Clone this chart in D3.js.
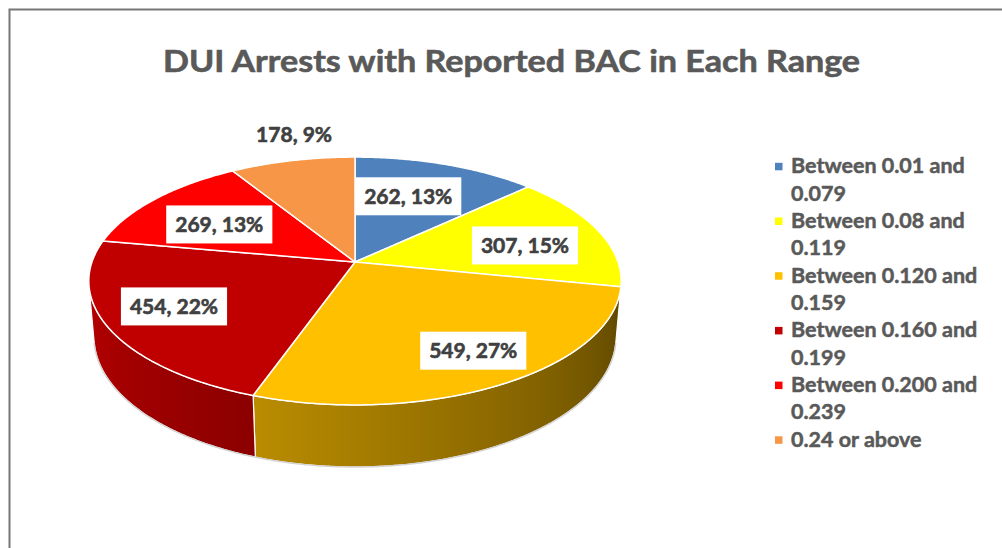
<!DOCTYPE html>
<html><head><meta charset="utf-8">
<script src="https://cdn.jsdelivr.net/npm/d3@7"></script>
<style>body{margin:0;background:#fff} svg{display:block}</style>
</head><body>
<svg id="chart" width="1002" height="548"></svg>
<script>
// ---- data ----
const categories = ["Between 0.01 and 0.079","Between 0.08 and 0.119","Between 0.120 and 0.159","Between 0.160 and 0.199","Between 0.200 and 0.239","0.24 or above"];
const legendLines = [["Between 0.01 and","0.079"],["Between 0.08 and","0.119"],["Between 0.120 and","0.159"],["Between 0.160 and","0.199"],["Between 0.200 and","0.239"],["0.24 or above"]];
const values = [262, 307, 549, 454, 269, 178];
const colors = ["#4f81bd", "#ffff00", "#ffc000", "#c00000", "#ff0000", "#f79646"];
const title = "DUI Arrests with Reported BAC in Each Range";

// ---- layout ----
const P = {cx: 355, cy: 262, F: 1523, D: 5.79, sa: 0.46, ca: 0.888, h: 0.242};
const labelRadius = [0.55, 0.7, 0.75, 0.75, 0.66, 1.25];
const labelNudge = [[0,-9],[-2,6],[10,1],[0,-4],[0,5],[15,-5]];
const labelBoxed = [true, true, true, true, true, false];
const FONT = "Lato, 'Noto Sans', 'DejaVu Sans', sans-serif";

const svg = d3.select("#chart");
const defs = svg.append("defs");

// chart area border
svg.append("path").attr("d", "M9.5,548 V9.5 H1002").attr("fill", "none")
  .attr("stroke", "#767676").attr("stroke-width", 2);

function heavy(sel, color, w) {
  return sel.attr("stroke", color).attr("stroke-width", w).attr("paint-order", "stroke").attr("stroke-linejoin", "round");
}

// title
const t = svg.append("text").attr("x", 511.5).attr("y", 72).attr("text-anchor", "middle")
  .attr("font-family", FONT).attr("font-weight", "bold").attr("font-size", 30.5)
  .attr("fill", "#595959").text(title);
t.attr("textLength", 697).attr("lengthAdjust", "spacingAndGlyphs");
heavy(t, "#595959", 0.6);

// projection
function proj(X, Y, Z) {
  const d = P.D - Y * P.sa - Z * P.ca;
  return [P.cx + P.F * X / d, P.cy + P.F * (Z * P.sa - Y * P.ca) / d];
}
function rim(theta, r = 1, Y = 0) { return proj(r * Math.sin(theta), Y, -r * Math.cos(theta)); }
function arcPts(a, b, r = 1, Y = 0) {
  const n = Math.max(2, Math.ceil(Math.abs(b - a) / (Math.PI / 360)));
  return d3.range(n + 1).map(i => rim(a + (b - a) * i / n, r, Y));
}
const line = d3.line().x(d => d[0]).y(d => d[1]);

const total = d3.sum(values);
const arcs = d3.pie().sort(null).value(d => d)(values);

// visible wall range
const tv = Math.asin(1 / (P.D * P.ca));
const tMin = Math.PI / 2 + tv, tMax = 3 * Math.PI / 2 - tv;
const shade = th => 0.36 + (th - tMin) / (tMax - tMin) * (0.95 - 0.36);

const gWall = svg.append("g");
arcs.forEach((a, i) => {
  const s = Math.max(a.startAngle, tMin), e = Math.min(a.endAngle, tMax);
  if (e <= s) return;
  const top = arcPts(s, e, 1, 0);
  const bot = arcPts(e, s, 1, -P.h);
  const x1 = rim(e)[0], x2 = rim(s)[0];
  const grad = defs.append("linearGradient").attr("id", "wall" + i)
    .attr("gradientUnits", "userSpaceOnUse").attr("x1", x1).attr("x2", x2).attr("y1", 0).attr("y2", 0);
  const interp = d3.interpolateRgb("#000", colors[i]);
  d3.range(9).forEach(k => {
    const th = e + (s - e) * k / 8;
    const x = rim(th)[0];
    grad.append("stop").attr("offset", (x - x1) / (x2 - x1)).attr("stop-color", interp(shade(th)));
  });
  gWall.append("path").attr("d", line(top.concat(bot)) + "Z")
    .attr("fill", `url(#wall${i})`).attr("stroke", "#fff").attr("stroke-width", 1.2)
    .attr("stroke-linejoin", "round");
});
// bottom rim outline
gWall.append("path").attr("d", line(arcPts(tMin, tMax, 1, -P.h))).attr("fill", "none")
  .attr("stroke", "#d4d4d4").attr("stroke-width", 1.5);

// top faces
const gTop = svg.append("g");
arcs.forEach((a, i) => {
  const pts = [proj(0, 0, 0)].concat(arcPts(a.startAngle, a.endAngle));
  gTop.append("path").attr("d", line(pts) + "Z").attr("fill", colors[i])
    .attr("stroke", "#fff").attr("stroke-width", 1.5).attr("stroke-linejoin", "round");
});

// data labels
const gLab = svg.append("g");
arcs.forEach((a, i) => {
  const mid = (a.startAngle + a.endAngle) / 2;
  const p = rim(mid, labelRadius[i]);
  const cx = p[0] + labelNudge[i][0], cy = p[1] + labelNudge[i][1];
  const txt = `${values[i]}, ${Math.round(values[i] / total * 100)}%`;
  const g = gLab.append("g");
  const rect = g.append("rect").attr("fill", "#fff");
  const tx = g.append("text").attr("x", cx).attr("y", cy + 7.5).attr("text-anchor", "middle")
    .attr("font-family", FONT).attr("font-weight", "bold").attr("font-size", 21)
    .attr("fill", "#404040").text(txt);
  heavy(tx, "#404040", 0.6);
  const w = tx.node().getComputedTextLength();
  if (labelBoxed[i]) {
    rect.attr("x", cx - w / 2 - 9).attr("y", cy - 19).attr("width", w + 18).attr("height", 38);
  } else rect.remove();
});

// legend
const gLeg = svg.append("g");
const lx = 775, ly0 = 173.3, lh = 27.35;
let row = 0;
legendLines.forEach((lines, i) => {
  const y = ly0 + row * lh;
  gLeg.append("rect").attr("x", lx).attr("y", y - 10.5).attr("width", 7.5).attr("height", 7.5).attr("fill", colors[i]);
  lines.forEach((l, j) => {
    const tt = gLeg.append("text").attr("x", lx + 16).attr("y", y + j * lh)
      .attr("font-family", FONT).attr("font-weight", "bold").attr("font-size", 21.5)
      .attr("fill", "#595959").text(l);
    heavy(tt, "#595959", 0.5);
  });
  row += lines.length;
});
</script>
</body></html>
